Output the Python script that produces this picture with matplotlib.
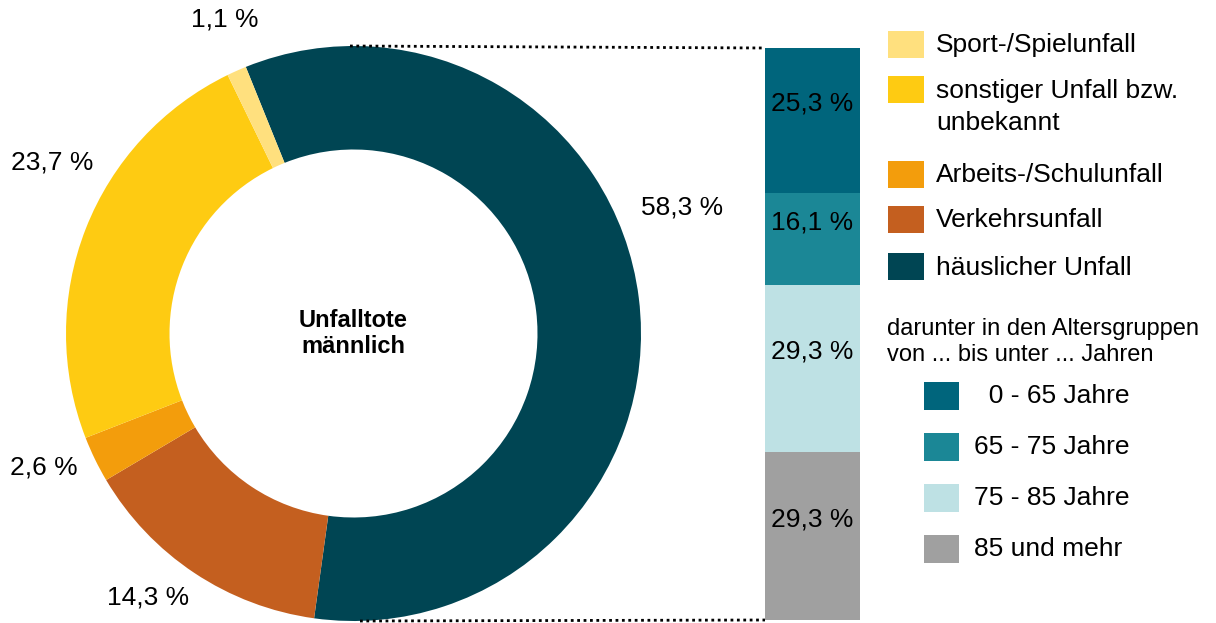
import matplotlib.pyplot as plt
from matplotlib.patches import Rectangle
from matplotlib.lines import Line2D

plt.rcParams['font.family'] = ['Liberation Sans', 'DejaVu Sans']

# Daten
arten = ['häuslicher Unfall', 'Verkehrsunfall', 'Arbeits-/Schulunfall',
         'sonstiger Unfall bzw.\nunbekannt', 'Sport-/Spielunfall']
anteile = [58.3, 14.3, 2.6, 23.7, 1.1]
farben_art = ['#004553', '#C45F1F', '#F39D0C', '#FECB12', '#FFE07E']

alter = ['  0 - 65 Jahre', '65 - 75 Jahre', '75 - 85 Jahre', '85 und mehr']
alter_anteile = [25.3, 16.1, 29.3, 29.3]
farben_alter = ['#00657C', '#1B8796', '#BEE1E4', '#A0A0A0']

W, H = 1216, 623
fig = plt.figure(figsize=(W / 100, H / 100), dpi=100)


def fx(x):
    return x / W


def fy(y):
    return 1 - y / H


# Ring
ax = fig.add_axes([fx(66), fy(621), 575 / W, 575 / H])
ax.pie(anteile, colors=farben_art, startangle=112, counterclock=False,
       radius=1, wedgeprops=dict(width=0.36, linewidth=0))
ax.set_xlim(-1, 1)
ax.set_ylim(-1, 1)
ax.text(0, 0, 'Unfalltote\nmännlich', ha='center', va='center',
        fontsize=17, fontweight='bold', linespacing=1.2)

# Prozentwerte am Ring
fmt = lambda v: f'{v:.1f} %'.replace('.', ',')
label_pos = [(682, 208), (148, 598), (44, 468), (52, 162), (225, 20)]
for v, (x, y) in zip(anteile, label_pos):
    fig.text(fx(x), fy(y), fmt(v), ha='center', va='center', fontsize=19)

# Balken Altersgruppen
bx = fig.add_axes([fx(765), fy(620), 95 / W, 572 / H])
unten = 0
for v, c in zip(alter_anteile, farben_alter):
    bx.bar(0, v, bottom=unten, width=1, color=c, linewidth=0)
    bx.annotate(fmt(v), (0, unten + v / 2), xytext=(0, 12), textcoords='offset points',
                ha='center', va='center', fontsize=19)
    unten += v
bx.set_xlim(-0.5, 0.5)
bx.set_ylim(100, 0)
bx.axis('off')

# gepunktete Verbindungslinien
for x0, y0, y1 in [(350, 46, 48), (360, 621, 620)]:
    fig.add_artist(Line2D([fx(x0), fx(765)], [fy(y0), fy(y1)], color='black',
                          linestyle=(0, (1, 1.3)), linewidth=2))

# Legende Unfallarten
leg1 = [(arten[4], farben_art[4], 31, 45),
        (arten[3], farben_art[3], 76, 107),
        (arten[2], farben_art[2], 161, 175),
        (arten[1], farben_art[1], 206, 220),
        (arten[0], farben_art[0], 253, 268)]
for txt, c, top, ty in leg1:
    fig.add_artist(Rectangle((fx(888), fy(top + 27)), 36 / W, 27 / H,
                             color=c, linewidth=0))
    fig.text(fx(936), fy(ty), txt, ha='left', va='center', fontsize=19,
             linespacing=1.4)

# Legende Altersgruppen
fig.text(fx(887), fy(342), 'darunter in den Altersgruppen\nvon ... bis unter ... Jahren',
         ha='left', va='center', fontsize=17, linespacing=1.2)
for txt, c, top in zip(alter, farben_alter, [382, 433, 484, 535]):
    fig.add_artist(Rectangle((fx(924), fy(top + 28)), 35 / W, 28 / H,
                             color=c, linewidth=0))
    fig.text(fx(974), fy(top + 14), txt, ha='left', va='center', fontsize=19)

fig.savefig('out.png', dpi=100)
